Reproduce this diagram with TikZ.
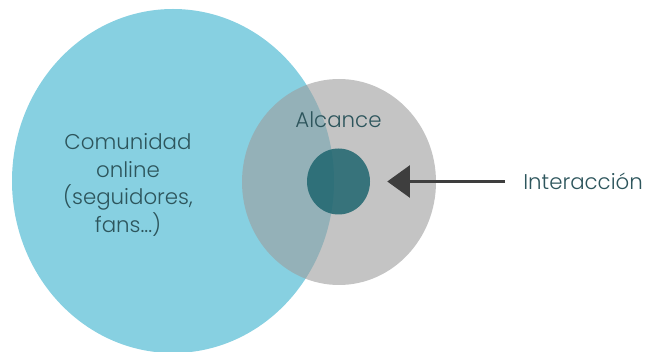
\documentclass[tikz,border=0pt]{standalone}
\usepackage{fontspec}
\setmainfont{Poppins}[UprightFont=* Light]
\usepackage{tikz}
\usetikzlibrary{shapes.geometric,arrows.meta}
\usetikzlibrary{positioning}
\definecolor{celeste}{RGB}{135,208,225}
\definecolor{gris}{RGB}{157,157,157}
\definecolor{petroleo}{RGB}{30,101,111}
\definecolor{texto}{RGB}{45,85,92}
\definecolor{oscuro}{RGB}{62,62,62}
\tikzset{
    zona/.style = {ellipse, inner sep=0pt, draw=none},
    etiqueta/.style = {text=texto, inner sep=0pt, align=center,
                 font=\fontsize{16}{20.8}\selectfont},
}

\begin{document}
\begin{tikzpicture}[x=0.75pt,y=-0.75pt,>={Triangle[length=17pt,width=24pt]}]
\useasboundingbox (0,0) rectangle (649,352);
\node (comunidad) [zona, fill=celeste, minimum width=241.5pt, minimum height=258pt] at (173,181) {};
\node (alcance) [zona, fill=gris, fill opacity=0.6, minimum width=145.5pt, minimum height=154.5pt] at (339,182) {};
\node (inter) [zona, fill=petroleo, fill opacity=0.85, minimum width=47.25pt, minimum height=49.5pt] at (338.5,181.5) {};

\node (comtxt) [etiqueta] at (128,185) {Comunidad\\online\\(seguidores,\\fans...)};
\node (alctxt) [etiqueta, above=15pt of inter] {Alcance};
\node (inttxt) [etiqueta, anchor=west] at (523,181.5) {Interacción};

\draw[->, draw=oscuro, line width=2.2pt, shorten <=13.5pt, shorten >=12.75pt] (inttxt.west) to (inter.east);
\end{tikzpicture}
\end{document}
